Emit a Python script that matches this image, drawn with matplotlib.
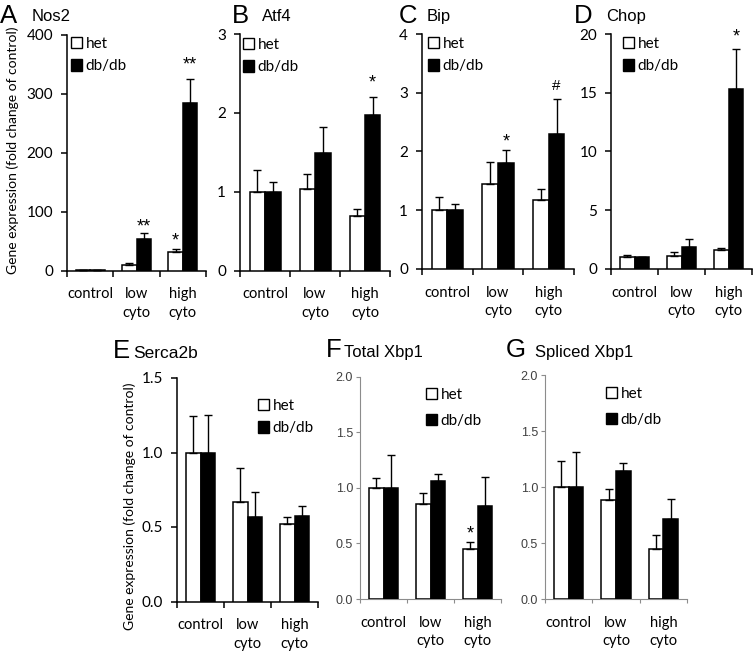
import matplotlib
matplotlib.use("Agg")
import matplotlib.pyplot as plt
from matplotlib.patches import Patch
import numpy as np

plt.rcParams["font.family"] = ["Lato", "DejaVu Sans"]

categories = ["control", "low\ncyto", "high\ncyto"]
series = ["het", "db/db"]
letters = ["A", "B", "C", "D", "E", "F", "G"]
genes = ["Nos2", "Atf4", "Bip", "Chop", "Serca2b", "Total Xbp1", "Spliced Xbp1"]

# mean and upper error (SEM) per panel, in category order
het_mean = [[1, 10, 31], [1.0, 1.04, 0.69], [1.0, 1.45, 1.18], [1.0, 1.08, 1.59],
            [1.0, 0.67, 0.52], [1.0, 0.85, 0.445], [1.0, 0.88, 0.445]]
het_err = [[0.5, 3, 5], [0.27, 0.19, 0.09], [0.22, 0.37, 0.19], [0.22, 0.39, 0.22],
           [0.245, 0.225, 0.05], [0.09, 0.105, 0.065], [0.23, 0.10, 0.125]]
db_mean = [[1, 53, 285], [1.0, 1.49, 1.97], [1.0, 1.80, 2.30], [1.0, 1.9, 15.3],
           [1.0, 0.57, 0.575], [1.0, 1.065, 0.835], [1.0, 1.145, 0.717]]
db_err = [[0.5, 11, 40], [0.12, 0.33, 0.23], [0.10, 0.22, 0.59], [0.05, 0.68, 3.45],
          [0.255, 0.165, 0.065], [0.29, 0.06, 0.265], [0.31, 0.07, 0.175]]
y_max = [400, 3, 4, 20, 1.5, 2.0, 2.0]
y_step = [100, 1, 1, 5, 0.5, 0.5, 0.5]
# significance marks: (panel, category, series, mark)
marks = [(0, 1, 1, "**"), (0, 2, 0, "*"), (0, 2, 1, "**"), (1, 2, 1, "*"),
         (2, 1, 1, "*"), (2, 2, 1, "#"), (3, 2, 1, "*"), (5, 2, 0, "*")]
ylabel = "Gene expression (fold change of control)"

# layout, in pixels of the 754x652 figure
W, H = 754, 652
boxes = [(67, 35, 206, 270.5), (240, 34, 390, 270.5), (422, 34, 574, 269),
         (611, 34, 752, 269), (177, 378, 318, 601.5), (360, 376.5, 501, 599),
         (545, 375, 687, 599)]
legend_at = [(71, 37), (243, 38), (428, 37), (623, 37), (258, 399), (426, 388), (606, 387)]
letter_at = [(0, 23), (232, 23), (399, 23), (574, 23), (113, 358), (326, 357), (506, 357)]
gene_at = [(32, 21), (262, 21), (427, 21), (606, 21), (133, 358), (344, 357), (535, 357)]
gene_size = [12, 12, 12, 12, 12.5, 12, 12]
mark_gap = [6, 8, 14, 14, 8, 13, 12, 8]  # px between error cap and mark centre
grey_axes = [False, False, False, False, False, True, True]

fig = plt.figure(figsize=(W / 100, H / 100), dpi=100)


def px(x, y):
    return x / W, 1 - y / H


bw = 0.31
x = np.arange(len(categories)) + 0.5
axes = []
for i in range(len(genes)):
    l, t, r, b = boxes[i]
    ax = fig.add_axes([l / W, 1 - b / H, (r - l) / W, (b - t) / H])
    axes.append(ax)
    ek = dict(ecolor="black", elinewidth=1.0, capsize=2.8, capthick=1.0)
    ax.bar(x - bw / 2, het_mean[i], bw, color="white", edgecolor="black", linewidth=1.1,
           yerr=[np.zeros(3), het_err[i]], error_kw=ek, zorder=3)
    ax.bar(x + bw / 2, db_mean[i], bw, color="black", edgecolor="black", linewidth=1.1,
           yerr=[np.zeros(3), db_err[i]], error_kw=ek, zorder=3)
    ax.set_xlim(0, 3)
    ax.set_ylim(0, y_max[i])
    ax.set_yticks(np.arange(0, y_max[i] + y_step[i] / 2, y_step[i]))
    if y_step[i] < 1:
        ax.set_yticklabels([f"{v:.1f}" for v in ax.get_yticks()])
    ax.set_xticks([0, 1, 2, 3])
    ax.set_xticklabels([])
    ax.set_xticks(x, categories, minor=True)
    ax.tick_params(axis="x", which="minor", length=0, pad=12, labelsize=10.5)
    for lab in ax.get_xticklabels(minor=True):
        lab.set_linespacing(1.4)
    for s in ["top", "right"]:
        ax.spines[s].set_visible(False)
    if grey_axes[i]:
        for s in ["left", "bottom"]:
            ax.spines[s].set_color("#8c8c8c")
            ax.spines[s].set_linewidth(0.8)
        ax.tick_params(axis="both", which="major", color="#8c8c8c", length=3, width=0.8)
        ax.tick_params(axis="y", pad=2, labelsize=9, labelcolor="#404040")
        for lab in ax.get_yticklabels():
            lab.set_family("Liberation Sans")
    else:
        for s in ["left", "bottom"]:
            ax.spines[s].set_linewidth(1.1)
        ax.tick_params(axis="both", which="major", length=4, width=1.1)
        ax.tick_params(axis="y", pad=6, labelsize=11)

    ax.legend([Patch(facecolor="white", edgecolor="black", linewidth=1.0),
               Patch(facecolor="black", edgecolor="black")], series,
              loc="upper left", bbox_to_anchor=px(*legend_at[i]),
              bbox_transform=fig.transFigure, frameon=False, borderpad=0,
              borderaxespad=0, handlelength=0.75, handleheight=0.75,
              handletextpad=0.2, labelspacing=0.55 if not grey_axes[i] else 0.8,
              fontsize=11)

    fig.text(*px(*letter_at[i]), letters[i], fontsize=18.5, family="Liberation Sans",
             va="baseline")
    fig.text(*px(*gene_at[i]), genes[i], fontsize=gene_size[i], family="Liberation Sans",
             va="baseline")

for k, (p, c, s, m) in enumerate(marks):
    top = (het_mean if s == 0 else db_mean)[p][c] + (het_err if s == 0 else db_err)[p][c]
    axes[p].annotate(m, (x[c] + (bw / 2 if s else -bw / 2), top),
                     xytext=(0, mark_gap[k] * 0.72), textcoords="offset points",
                     ha="center", va="center", fontsize=11 if m == "#" else 13,
                     family="Liberation Sans")

fig.text(*px(13, 150), ylabel, rotation=90, ha="center", va="center", fontsize=10)
fig.text(*px(130, 506), ylabel, rotation=90, ha="center", va="center", fontsize=10)

fig.savefig("out.png", dpi=100)
